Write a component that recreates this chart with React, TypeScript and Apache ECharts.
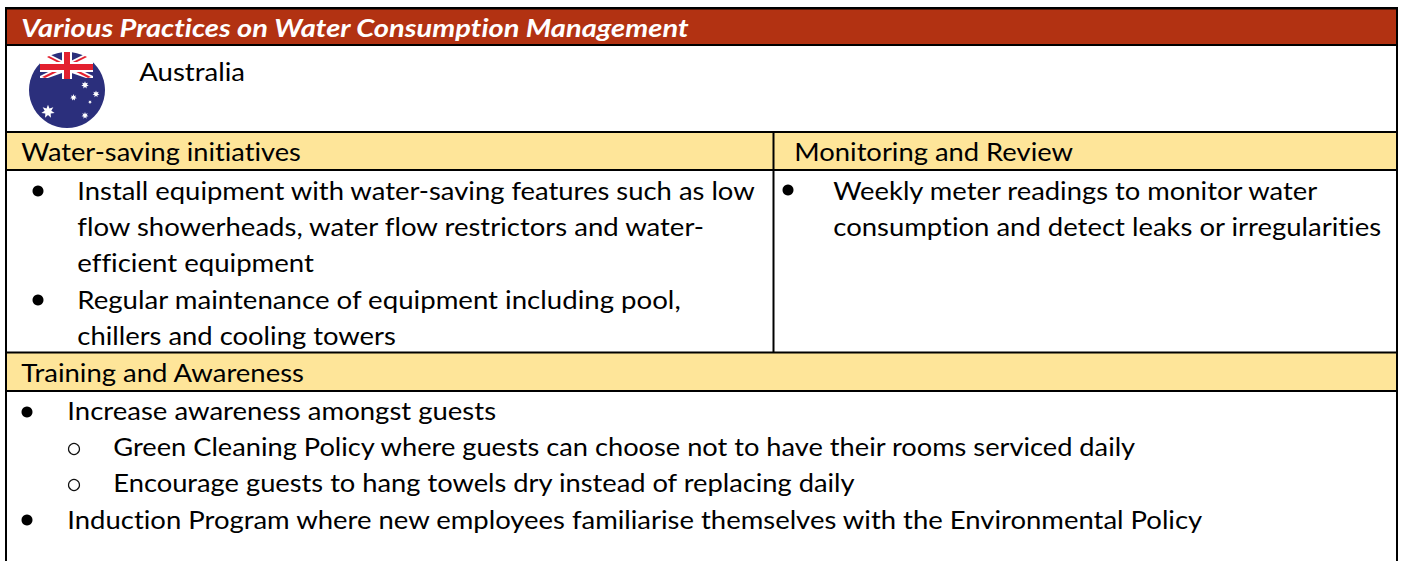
import React, { useEffect, useRef } from "react";
import * as echarts from "echarts";

const W = 1402;
const H = 561;
const FONT = "Lato";
const SIZE = 24.5;

const titleText = "Various Practices on Water Consumption Management";
const countryText = "Australia";
const sectionHeads = ["Water-saving initiatives", "Monitoring and Review", "Training and Awareness"];
const savingLines = [
  "Install equipment with water-saving features such as low",
  "flow showerheads, water flow restrictors and water-",
  "efficient equipment",
  "Regular maintenance of equipment including pool,",
  "chillers and cooling towers",
];
const monitoringLines = [
  "Weekly meter readings to monitor water",
  "consumption and detect leaks or irregularities",
];
const trainingLines = [
  "Increase awareness amongst guests",
  "Green Cleaning Policy where guests can choose not to have their rooms serviced daily",
  "Encourage guests to hang towels dry instead of replacing daily",
  "Induction Program where new employees familiarise themselves with the Environmental Policy",
];

const measureCtx = document.createElement("canvas").getContext("2d")!;
(measureCtx as any).letterSpacing = "0.001px";
function fitted(text: string, x: number, end: number, y: number, fill = "#000", weight = "normal", italic = false) {
  const font = `${italic ? "italic " : ""}${weight} ${SIZE}px ${FONT}`;
  measureCtx.font = font;
  const w = measureCtx.measureText(text).width;
  const x0 = x - 0.7;
  return {
    type: "text",
    x: x0,
    y,
    scaleX: (end + 1 - x0) / w,
    silent: true,
    style: { text, x: 0, y: 0, fill, font, align: "left", verticalAlign: "middle" },
  };
}

function rect(x: number, y: number, width: number, height: number, fill: string) {
  return { type: "rect", silent: true, shape: { x, y, width, height }, style: { fill } };
}
function bullet(cx: number, cy: number) {
  return { type: "circle", silent: true, shape: { cx, cy, r: 5.5 }, style: { fill: "#000" } };
}
function ring(cx: number, cy: number) {
  return { type: "circle", silent: true, shape: { cx, cy, r: 5.5 }, style: { fill: "none", stroke: "#111", lineWidth: 1.2 } };
}
function star(cx: number, cy: number, R: number, n = 7) {
  const points: number[][] = [];
  for (let i = 0; i < n * 2; i++) {
    const r = i % 2 ? R * 0.5 : R;
    const a = -Math.PI / 2 + (i * Math.PI) / n;
    points.push([cx + r * Math.cos(a), cy + r * Math.sin(a)]);
  }
  return { type: "polygon", silent: true, shape: { points }, style: { fill: "#fff" } };
}
function poly(points: number[][], fill: string) {
  return { type: "polygon", silent: true, shape: { points }, style: { fill } };
}

const NAVY = "#2b2f7c";
const RED = "#e3202f";
const BAND = "#b23212";
const CREAM = "#fee599";

const flag = [
  { type: "circle", silent: true, shape: { cx: 67, cy: 90, r: 38 }, style: { fill: NAVY } },
  poly([[44, 57], [50, 54.5], [93, 76], [93, 78], [86, 78], [40, 62]], "#fff"),
  poly([[90, 57], [84, 54.5], [40, 76], [40, 78], [48, 78], [93, 62]], "#fff"),
  poly([[47, 57], [49, 56], [91, 77], [88, 78]], RED),
  poly([[87, 57], [85, 56], [42, 77], [45, 78]], RED),
  rect(40, 62, 53, 10, "#fff"),
  rect(62, 52, 10, 27, "#fff"),
  rect(40, 64, 53, 6, RED),
  rect(64, 52, 6, 27, RED),
  star(85, 85, 3.8),
  star(96, 94, 3.5),
  star(73.5, 97.5, 3.4),
  star(90, 102, 1.9),
  star(85, 115.5, 3.5),
  star(48, 111.5, 6.8),
];

const graphicElements: any[] = [
  rect(0, 0, W, H, "#fff"),
  rect(7, 9, 1389, 36, BAND),
  rect(7, 133, 1389, 37, CREAM),
  rect(7, 353, 1389, 38, CREAM),
  rect(5, 7, 1393, 2.5, "#000"),
  rect(5, 44, 1393, 2, "#000"),
  rect(5, 131, 1393, 2, "#000"),
  rect(5, 169, 1393, 2, "#000"),
  rect(5, 351.5, 1393, 2, "#000"),
  rect(5, 390, 1393, 2, "#000"),
  rect(5, 7, 2, H - 7, "#000"),
  rect(1396, 7, 2, H - 7, "#000"),
  rect(772.5, 131, 2, 222, "#000"),
  ...flag,
  fitted(titleText, 22, 689, 27, "#ffffff", "bold", true),
  fitted(countryText, 140, 244, 72),
  fitted(sectionHeads[0], 22, 300, 152),
  fitted(sectionHeads[1], 795, 1072, 152),
  fitted(sectionHeads[2], 22, 304, 373),
  bullet(38, 191),
  fitted(savingLines[0], 78, 755, 191),
  fitted(savingLines[1], 78, 706, 227),
  fitted(savingLines[2], 78, 313, 263),
  bullet(38, 300),
  fitted(savingLines[3], 78, 681, 300),
  fitted(savingLines[4], 78, 395, 336),
  bullet(788, 190),
  fitted(monitoringLines[0], 834, 1319, 191),
  fitted(monitoringLines[1], 834, 1381, 227),
  bullet(27, 412),
  fitted(trainingLines[0], 68, 495, 411),
  ring(74, 449),
  fitted(trainingLines[1], 114, 1137, 447),
  ring(74, 485),
  fitted(trainingLines[2], 114, 855, 483),
  bullet(27, 520),
  fitted(trainingLines[3], 68, 1203, 520),
];

export default function App() {
  const ref = useRef<HTMLDivElement>(null);
  useEffect(() => {
    const chart = echarts.init(ref.current!, undefined, { renderer: "svg" });
    chart.setOption({ animation: false, backgroundColor: "#fff", graphic: { elements: graphicElements } });
    return () => chart.dispose();
  }, []);
  return (
    <>
      <style>{`text { font-variant-ligatures: none !important; font-feature-settings: "liga" 0, "clig" 0 !important; }`}</style>
      <div ref={ref} style={{ position: "fixed", left: 0, top: 0, width: W, height: H }} />
    </>
  );
}
